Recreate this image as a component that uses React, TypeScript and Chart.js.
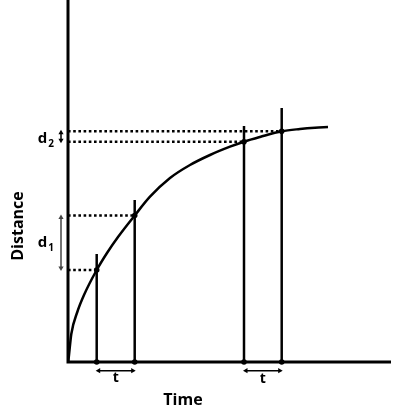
import React, { useEffect, useRef } from "react";
import { Chart, registerables } from "chart.js";
Chart.register(...registerables);

// Curve (time, distance) in arbitrary units
const curveTime = [0.3, 1, 3.3, 9.3, 16, 28.7, 39, 50, 66.7, 82, 102, 122, 142, 162, 176, 192, 213.7, 232, 247, 260];
const curveDistance = [1, 7, 28, 50, 67, 92, 109, 125, 146.5, 165.3, 184, 197, 207, 215.3, 220.3, 225, 230.7, 233, 234.3, 235];

// Marked instants and readings
const markTimes = [28.7, 66.7, 176, 213.7];
const markDistances = [92, 146.5, 220.3, 230.7];
const markTops = [108, 162, 236, 254];

// Axis extents
const axisTimeMax = 323;
const axisDistanceMax = 362;

const labels = { y: "Distance", x: "Time", t: "t", d1: ["d", "1"], d2: ["d", "2"] };

export default function App() {
  const ref = useRef<HTMLCanvasElement | null>(null);
  useEffect(() => {
    if (!ref.current) return;
    const black = "#000";
    const datasets: any[] = [];
    // axes
    datasets.push({
      type: "line",
      data: [
        { x: 0, y: axisDistanceMax },
        { x: 0, y: 0 },
        { x: axisTimeMax, y: 0 },
      ],
      borderColor: black,
      borderWidth: 3,
      pointRadius: 0,
      borderJoinStyle: "miter",
      tension: 0,
    });
    // curve
    datasets.push({
      type: "line",
      data: curveTime.map((t, i) => ({ x: t, y: curveDistance[i] })),
      borderColor: black,
      borderWidth: 2.5,
      pointRadius: 0,
      cubicInterpolationMode: "monotone",
    });
    // vertical lines
    markTimes.forEach((t, i) => {
      datasets.push({
        type: "line",
        data: [
          { x: t, y: 0 },
          { x: t, y: markTops[i] },
        ],
        borderColor: black,
        borderWidth: 2.5,
        pointRadius: 0,
      });
      // dotted horizontal
      datasets.push({
        type: "line",
        data: [
          { x: 0, y: markDistances[i] },
          { x: t, y: markDistances[i] },
        ],
        borderColor: black,
        borderWidth: 2.5,
        borderDash: [2.6, 2.6],
        borderCapStyle: "butt",
        pointRadius: 0,
      });
    });
    // dots
    datasets.push({
      type: "scatter",
      data: [
        ...markTimes.map((t, i) => ({ x: t, y: markDistances[i] })),
        ...markTimes.map((t) => ({ x: t, y: 0 })),
      ],
      backgroundColor: black,
      borderColor: black,
      pointRadius: 2.8,
      borderWidth: 0,
    });
    const arrow = (pts: { x: number; y: number }[], rot: number[], color: string) => ({
      type: "line",
      data: pts,
      borderColor: color,
      backgroundColor: color,
      borderWidth: 1.5,
      pointStyle: "triangle",
      pointRadius: 3,
      pointBorderWidth: 0,
      pointRotation: rot,
    });
    // d1, d2 arrows
    datasets.push(arrow([{ x: -7, y: markDistances[1] - 2 }, { x: -7, y: markDistances[0] + 2 }], [0, 180], "#444"));
    datasets.push(arrow([{ x: -7, y: markDistances[3] - 1.5 }, { x: -7, y: markDistances[2] + 1.5 }], [0, 180], black));
    // t arrows
    datasets.push(arrow([{ x: markTimes[0] + 2, y: -8.7 }, { x: markTimes[1] - 2, y: -8.7 }], [270, 90], black));
    datasets.push(arrow([{ x: markTimes[2] + 2, y: -8.7 }, { x: markTimes[3] - 2, y: -8.7 }], [270, 90], black));

    const textPlugin = {
      id: "texts",
      afterDatasetsDraw(chart: any) {
        const { ctx, scales } = chart;
        const px = (v: number) => scales.x.getPixelForValue(v);
        const py = (v: number) => scales.y.getPixelForValue(v);
        const fam = '"Open Sans", sans-serif';
        ctx.save();
        ctx.fillStyle = "#000";
        ctx.textAlign = "center";
        ctx.textBaseline = "middle";
        ctx.font = `bold 16px ${fam}`;
        ctx.fillText(labels.x, px(115), py(-38));
        ctx.save();
        ctx.translate(px(-50), py(136));
        ctx.rotate(-Math.PI / 2);
        ctx.fillText(labels.y, 0, 0);
        ctx.restore();
        ctx.font = `bold 14px ${fam}`;
        ctx.fillText(labels.t, px((markTimes[0] + markTimes[1]) / 2), py(-16));
        ctx.fillText(labels.t, px((markTimes[2] + markTimes[3]) / 2), py(-17));
        const drawD = (parts: string[], yMid: number) => {
          ctx.textBaseline = "alphabetic";
          ctx.textAlign = "left";
          ctx.font = `bold 15px ${fam}`;
          const w1 = ctx.measureText(parts[0]).width;
          ctx.font = `bold 10px ${fam}`;
          const w2 = ctx.measureText(parts[1]).width;
          const right = px(-14);
          const x0 = right - w1 - w2 - 1;
          const base = py(yMid) + 4;
          ctx.font = `bold 15px ${fam}`;
          ctx.fillText(parts[0], x0, base);
          ctx.font = `bold 10px ${fam}`;
          ctx.fillText(parts[1], x0 + w1 + 1, base + 4);
        };
        drawD(labels.d1, (markDistances[0] + markDistances[1]) / 2);
        drawD(labels.d2, (markDistances[2] + markDistances[3]) / 2 - 2);
        ctx.restore();
      },
    };

    const chart = new Chart(ref.current, {
      type: "line",
      data: { datasets },
      options: {
        responsive: false,
        animation: false,
        layout: { padding: 0, autoPadding: false },
        plugins: { legend: { display: false }, tooltip: { enabled: false } },
        scales: {
          x: { type: "linear", display: false, min: -68, max: 329 },
          y: { type: "linear", display: false, min: -48, max: 362 },
        },
      },
      plugins: [textPlugin],
    } as any);
    return () => chart.destroy();
  }, []);
  return (
    <div style={{ position: "fixed", left: 0, top: 0, width: 397, height: 410, background: "#fff" }}>
      <canvas ref={ref} width={397} height={410} style={{ display: "block" }} />
    </div>
  );
}
